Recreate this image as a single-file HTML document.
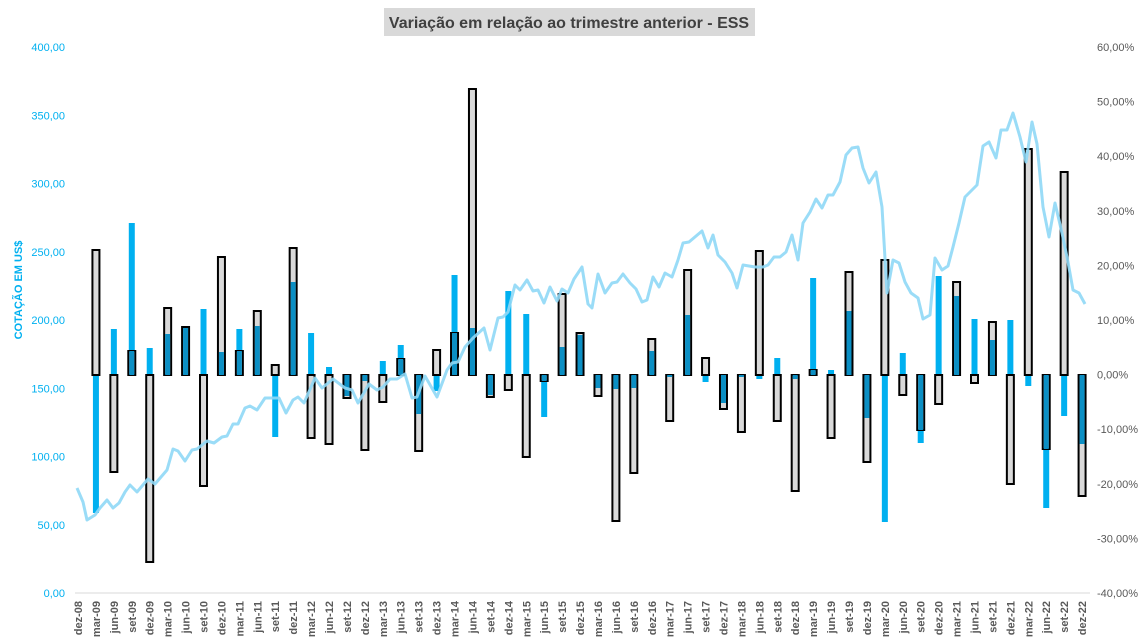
<!DOCTYPE html>
<html><head><meta charset="utf-8"><style>
html,body{margin:0;padding:0;background:#fff;}
svg{display:block;font-family:"Liberation Sans",sans-serif;}
</style></head><body>
<svg id="c" width="1139" height="643" xmlns="http://www.w3.org/2000/svg">
<rect x="384" y="8" width="371" height="28" fill="#d9d9d9"/>
<text x="569" y="28" text-anchor="middle" font-size="16" font-weight="bold" fill="#404040">Variação em relação ao trimestre anterior - ESS</text>
<text transform="translate(22,290) rotate(-90)" text-anchor="middle" font-size="11" font-weight="bold" fill="#00b0f0">COTAÇÃO EM US$</text>
<line x1="75" y1="593" x2="1090" y2="593" stroke="#d9d9d9" stroke-width="1"/>
<g id="g"></g>
</svg>
<script>
var g=document.getElementById('g'),h='';
var Z=375;
// [blueEndY, outlineEndY] for i=1..56
var d=[[513,250],[329,472],[223,351],[348,562],[334,308],[328,327],[309,486],[352,257],[329,351],[326,311],
[437,365],[282,248],[333,438],[367,444],[396,398],[381,450],[361,402],[345,359],[414,451],[391,350],
[275,333],[328,89],[395,397],[291,390],[314,457],[417,381],[347,294],[335,333],[388,396],[389,521],
[388,473],[351,339],[377,421],[315,270],[382,358],[403,409],[377,432],[379,251],[358,421],[379,491],
[278,370],[370,438],[311,272],[418,462],[522,260],[353,395],[443,430],[276,404],[296,282],[319,383],
[340,322],[320,484],[386,149],[508,449],[416,172],[444,496]];
function X(i){return 78+i*17.93;}
for(var i=1;i<=56;i++){
 var x=X(i),b=d[i-1][0],o=d[i-1][1];
 h+='<rect x="'+(x-3)+'" y="'+Math.min(b,Z)+'" width="6" height="'+Math.abs(b-Z)+'" fill="#00b0f0"/>';
 h+='<rect x="'+(x-3.5)+'" y="'+Math.min(o,Z)+'" width="7" height="'+Math.abs(o-Z)+'" fill="#d9d9d9" stroke="#000" stroke-width="2"/>';
 if((b<Z)==(o<Z)){var e=(b<Z)?Math.max(b,o):Math.min(b,o);
  h+='<rect x="'+(x-2.5)+'" y="'+Math.min(e,Z)+'" width="5" height="'+Math.abs(e-Z)+'" fill="#0b8fc4"/>';}
}
var L=[[77,488],[83,502],[87,520],[95,515],[100,508],[107,500],[113,508],[119,503],[125,492],[130,485],[137,492],[148,479],[155,484],[167,470],[173,449],[178,451],[185,461],[192,450],[197,449],[207,441],[214,443],[222,437],[227,436],[233,424],[238,424],[245,408],[250,406],[257,410],[265,398],[272,398],[279,398],[286,413],[293,400],[298,397],[304,403],[315,378],[322,388],[333,379],[345,388],[352,390],[358,403],[369,384],[377,390],[383,387],[390,379],[397,379],[405,374],[412,398],[417,397],[425,376],[437,397],[447,370],[452,363],[458,362],[465,347],[473,338],[484,328],[490,350],[498,318],[503,317],[508,312],[515,285],[520,290],[527,280],[533,291],[538,290],[544,303],[550,287],[557,301],[562,289],[568,293],[574,279],[582,267],[588,304],[592,308],[598,274],[605,293],[612,283],[617,282],[623,274],[630,283],[636,289],[642,302],[647,300],[653,277],[659,287],[665,273],[672,277],[678,260],[683,243],[689,242],[702,231],[708,248],[713,235],[718,255],[725,262],[732,273],[737,288],[743,265],[755,267],[763,267],[768,265],[774,257],[780,257],[786,252],[792,235],[798,260],[803,223],[810,212],[816,199],[822,208],[828,195],[833,195],[840,182],[846,155],[852,148],[858,147],[863,168],[869,183],[876,172],[882,207],[887,293],[893,260],[899,263],[905,282],[911,293],[918,298],[923,319],[930,315],[935,258],[942,270],[948,266],[953,247],[959,223],[965,197],[977,185],[983,146],[989,142],[996,158],[1001,130],[1007,130],[1013,113],[1020,137],[1026,162],[1032,122],[1037,144],[1043,207],[1049,237],[1055,203],[1062,233],[1068,262],[1073,290],[1079,293],[1085,304]];
h+='<polyline fill="none" stroke="#8fd8f6" stroke-opacity="0.9" stroke-width="3" stroke-linejoin="round" points="'+L.map(function(p){return p.join(',')}).join(' ')+'"/>';
for(var k=0;k<=8;k++){var v=400-k*50,y=593-v*1.365;
 h+='<text x="65" y="'+(y+4)+'" text-anchor="end" font-size="11" fill="#00b0f0">'+v.toFixed(2).replace('.',',')+'</text>';}
for(var k=0;k<=10;k++){var p=60-k*10,y=47+k*54.6;
 h+='<text x="1097" y="'+(y+4)+'" font-size="11" fill="#595959">'+p.toFixed(2).replace('.',',')+'%</text>';}
var m=['mar','jun','set','dez'];
for(var i=0;i<=56;i++){var yr=8+Math.floor((i+3)/4),q=(i+3)%4;
 var s=m[q]+'-'+(yr<10?'0'+yr:yr);
 h+='<text transform="translate('+(X(i)+4)+',601) rotate(-90)" text-anchor="end" font-size="11" font-weight="bold" fill="#595959">'+s+'</text>';}
g.innerHTML=h;
</script>
</body></html>
